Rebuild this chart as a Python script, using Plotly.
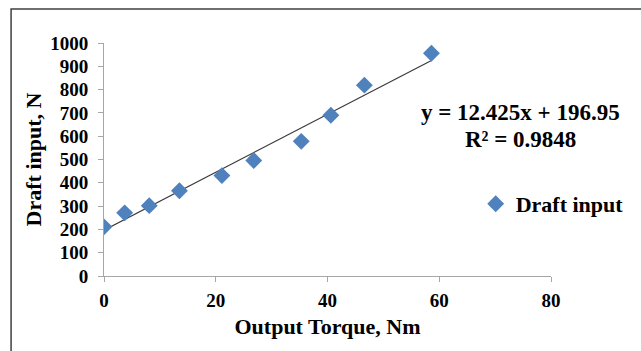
import plotly.graph_objects as go

torque = [0.0, 3.7, 8.1, 13.5, 21.1, 26.8, 35.3, 40.6, 46.6, 58.6]
draft = [211, 271, 302, 366, 431, 496, 578, 690, 819, 956]
slope = 12.425
intercept = 196.95
r2 = 0.9848
x_ticks = [0, 20, 40, 60, 80]
y_ticks = [0, 100, 200, 300, 400, 500, 600, 700, 800, 900, 1000]

FONT = "Liberation Serif, Times New Roman, serif"

fig = go.Figure()
tx = [min(torque), max(torque)]
fig.add_trace(go.Scatter(
    x=tx, y=[slope * v + intercept for v in tx], mode="lines",
    line=dict(color="#3a3a3a", width=1.2), showlegend=False, hoverinfo="skip"))
fig.add_trace(go.Scatter(
    x=torque, y=draft, mode="markers", name="Draft input",
    marker=dict(symbol="diamond", size=13, color="#4F81BD")))

L, R, T, B = 104, 80, 43, 75
W, H = 641, 351
pw, ph = W - L - R, H - T - B

def px(xp):
    return (xp - L) / pw

def py(yp):
    return (H - B - yp) / ph

tickfont = dict(family=FONT, size=19, color="black", weight="bold")
axis_common = dict(showgrid=False, zeroline=False, showline=True,
                   linecolor="#a6a6a6", linewidth=1, ticks="outside",
                   ticklen=5, tickcolor="#a6a6a6", automargin=False,
                   tickfont=tickfont)

fig.update_layout(
    width=W, height=H,
    margin=dict(l=L, r=R, t=T, b=B),
    paper_bgcolor="white", plot_bgcolor="white",
    font=dict(family=FONT, color="black"),
    xaxis=dict(range=[0, 80], tickvals=x_ticks,
               title=dict(text="Output Torque, Nm",
                          font=dict(family=FONT, size=22, weight="bold"), standoff=8),
               ticklabelstandoff=2, **axis_common),
    yaxis=dict(range=[0, 1000], tickvals=y_ticks,
               title=dict(text="Draft input, N",
                          font=dict(family=FONT, size=22, weight="bold"), standoff=2),
               ticklabelstandoff=6, **axis_common),
    showlegend=True,
    legend=dict(x=px(484), y=py(204), xanchor="left", yanchor="middle",
                font=dict(family=FONT, size=22, color="black", weight="bold"),
                bgcolor="rgba(0,0,0,0)", itemwidth=30),
)

fig.add_annotation(x=px(530), y=py(112), xref="paper", yref="paper",
                   text="y = %.3fx + %.2f" % (slope, intercept), showarrow=False,
                   font=dict(family=FONT, size=23, color="black", weight="bold"),
                   xanchor="center", yanchor="middle")
fig.add_annotation(x=px(530), y=py(139), xref="paper", yref="paper",
                   text="R² = %.4f" % r2, showarrow=False,
                   font=dict(family=FONT, size=23, color="black", weight="bold"),
                   xanchor="center", yanchor="middle")

fig.add_shape(type="rect", xref="paper", yref="paper",
              x0=px(9), x1=px(700), y0=py(400), y1=py(9),
              line=dict(color="#404040", width=1.5), fillcolor="rgba(0,0,0,0)", layer="below")

fig.write_html("out.html", config={"displayModeBar": False},
               post_script="document.body.style.margin='0';document.body.style.overflow='hidden';")
